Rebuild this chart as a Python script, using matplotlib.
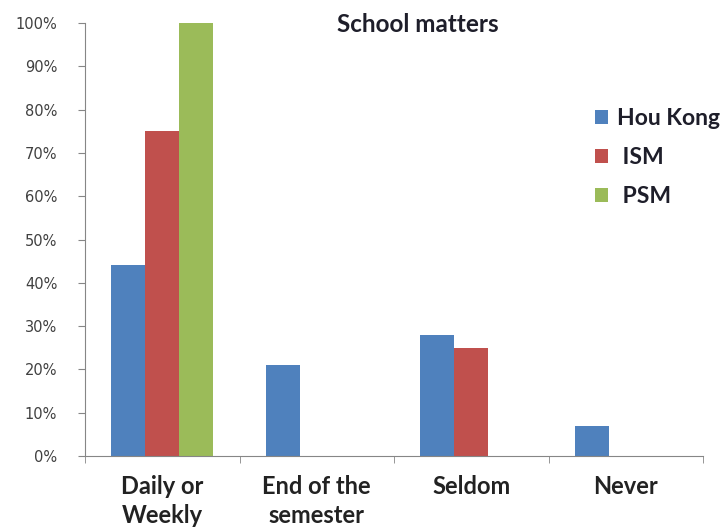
import numpy as np
import matplotlib
matplotlib.use("Agg")
import matplotlib.pyplot as plt

categories = ["Daily or\nWeekly", "End of the\nsemester", "Seldom", "Never"]
series_names = ["Hou Kong", " ISM", " PSM"]
hou_kong = [44, 21, 28, 7]
ism = [75, 0, 25, 0]
psm = [100, 0, 0, 0]
colors = ["#4F81BD", "#C0504D", "#9BBB59"]

plt.rcParams['font.family'] = ['Lato', 'DejaVu Sans']

fig = plt.figure(figsize=(7.23, 5.29), dpi=100)
ax = fig.add_axes([85 / 723, 1 - 456 / 529, (703 - 85) / 723, (456 - 23) / 529])

x = np.arange(len(categories))
w = 0.22
for i, (vals, name) in enumerate(zip([hou_kong, ism, psm], series_names)):
    ax.bar(x + (i - 1) * w, vals, w, color=colors[i], label=name)

ax.set_xlim(-0.5, len(categories) - 0.5)
ax.set_ylim(0, 100)
ax.set_yticks(np.arange(0, 101, 10))
ax.set_yticklabels([f"{v}%" for v in range(0, 101, 10)])
for t in ax.get_yticklabels():
    t.set_fontfamily("DejaVu Sans")
    t.set_fontsize(10.5)
    t.set_color("#404040")
ax.set_xticks(x)
ax.set_xticklabels(categories, fontsize=17, fontweight="bold", color="#222222",
                   va="top", linespacing=1.3)
ax.tick_params(axis="x", length=0, pad=14)
ax.set_xticks(np.arange(-0.5, len(categories)), minor=True)
ax.tick_params(axis="x", which="minor", length=5, color="#868686")
ax.tick_params(axis="y", length=5, color="#868686", pad=15)

for s in ["top", "right"]:
    ax.spines[s].set_visible(False)
for s in ["left", "bottom"]:
    ax.spines[s].set_color("#868686")

fig.text(418 / 723, 1 - 24 / 529, "School matters", fontsize=17.5, fontweight="bold",
         ha="center", va="center", color="#1e1e2a")

leg = fig.legend(loc="upper left", bbox_to_anchor=(595 / 723, 1 - 108 / 529),
                 bbox_transform=fig.transFigure, frameon=False, borderpad=0,
                 borderaxespad=0, handlelength=0.57, handleheight=0.57,
                 handletextpad=0.4, labelspacing=0.78,
                 prop={"size": 16.5, "weight": "bold"})
for t in leg.get_texts():
    t.set_color("#1e1e2a")

fig.savefig("out.png", dpi=100)
